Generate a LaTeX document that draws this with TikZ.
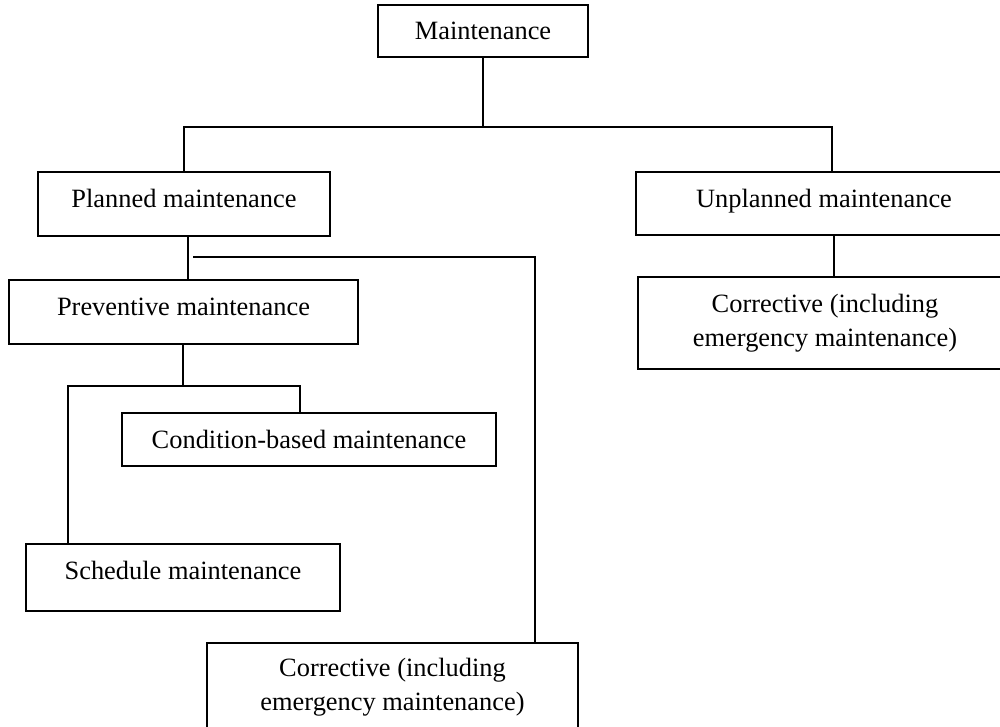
\documentclass[tikz,border=0pt]{standalone}
\usepackage{fontspec}
\setmainfont{Liberation Serif}
\usetikzlibrary{positioning}

\begin{document}
\begin{tikzpicture}[x = 0.5pt, y = -0.5pt]
	\tikzstyle{boxStyle} = [shape = rectangle, draw, line width = 0.6pt, inner sep = 0pt, align = center, font = \fontsize{13.2}{17}\selectfont]
	\tikzstyle{raisedStyle} = [text height = 9pt, text depth = 5.5pt]
	\tikzstyle{lineStyle} = [line width = 0.9pt]
	\useasboundingbox (0,0) rectangle (1000,727);
	% boxes
	\node[boxStyle, minimum width = 105pt, minimum height = 26pt] (maint) at (483,31) {Maintenance};
	\node[boxStyle, raisedStyle, minimum width = 146pt, minimum height = 32pt] (planned) at (184,204) {Planned maintenance};
	\node[boxStyle, raisedStyle, minimum width = 188pt, minimum height = 31.5pt] (unplanned) at (824,203.5) {Unplanned maintenance};
	\node[boxStyle, minimum width = 187pt, minimum height = 46pt] (corrR) at (825,323) {Corrective (including\\emergency maintenance)};
	\node[boxStyle, raisedStyle, minimum width = 174.5pt, minimum height = 32pt] (prevent) at (183.5,312) {Preventive maintenance};
	\node[boxStyle, minimum width = 187pt, minimum height = 26.5pt] (cond) at (309,439.5) {Condition-based maintenance};
	\node[boxStyle, raisedStyle, text depth = 7.5pt, minimum width = 157pt, minimum height = 33.5pt] (sched) at (183,577.5) {Schedule maintenance};
	\node[boxStyle, minimum width = 185.5pt, minimum height = 44pt] (corrLow) at (392.5,687) {Corrective (including\\emergency maintenance)};
	% branch points
	\coordinate (split1) at (483,127);
	\coordinate (split2) at (193,257);
	\coordinate (bend2) at (535,257);
	\coordinate (split3) at (183,386);
	\coordinate (branchL) at (68,386);
	\coordinate (branchR) at (300,386);
	\coordinate (dropR) at (834,0);
	% connectors
	\draw[lineStyle] (maint) -- (split1);
	\draw[lineStyle] (planned.north) |- ([xshift = 4pt]unplanned.north |- split1) -- ([xshift = 4pt]unplanned.north);
	\draw[lineStyle] ([xshift = 2pt]planned.south) -- ([xshift = 2pt]planned.south |- prevent.north);
	\draw[lineStyle] (split2) -- (bend2) -- (bend2 |- corrLow.north);
	\draw[lineStyle] (dropR |- unplanned.south) -- (dropR |- corrR.north);
	\draw[lineStyle] (split3 |- prevent.south) -- (split3);
	\draw[lineStyle] (branchL |- sched.north) |- (branchR) -- (branchR |- cond.north);
\end{tikzpicture}
\end{document}
